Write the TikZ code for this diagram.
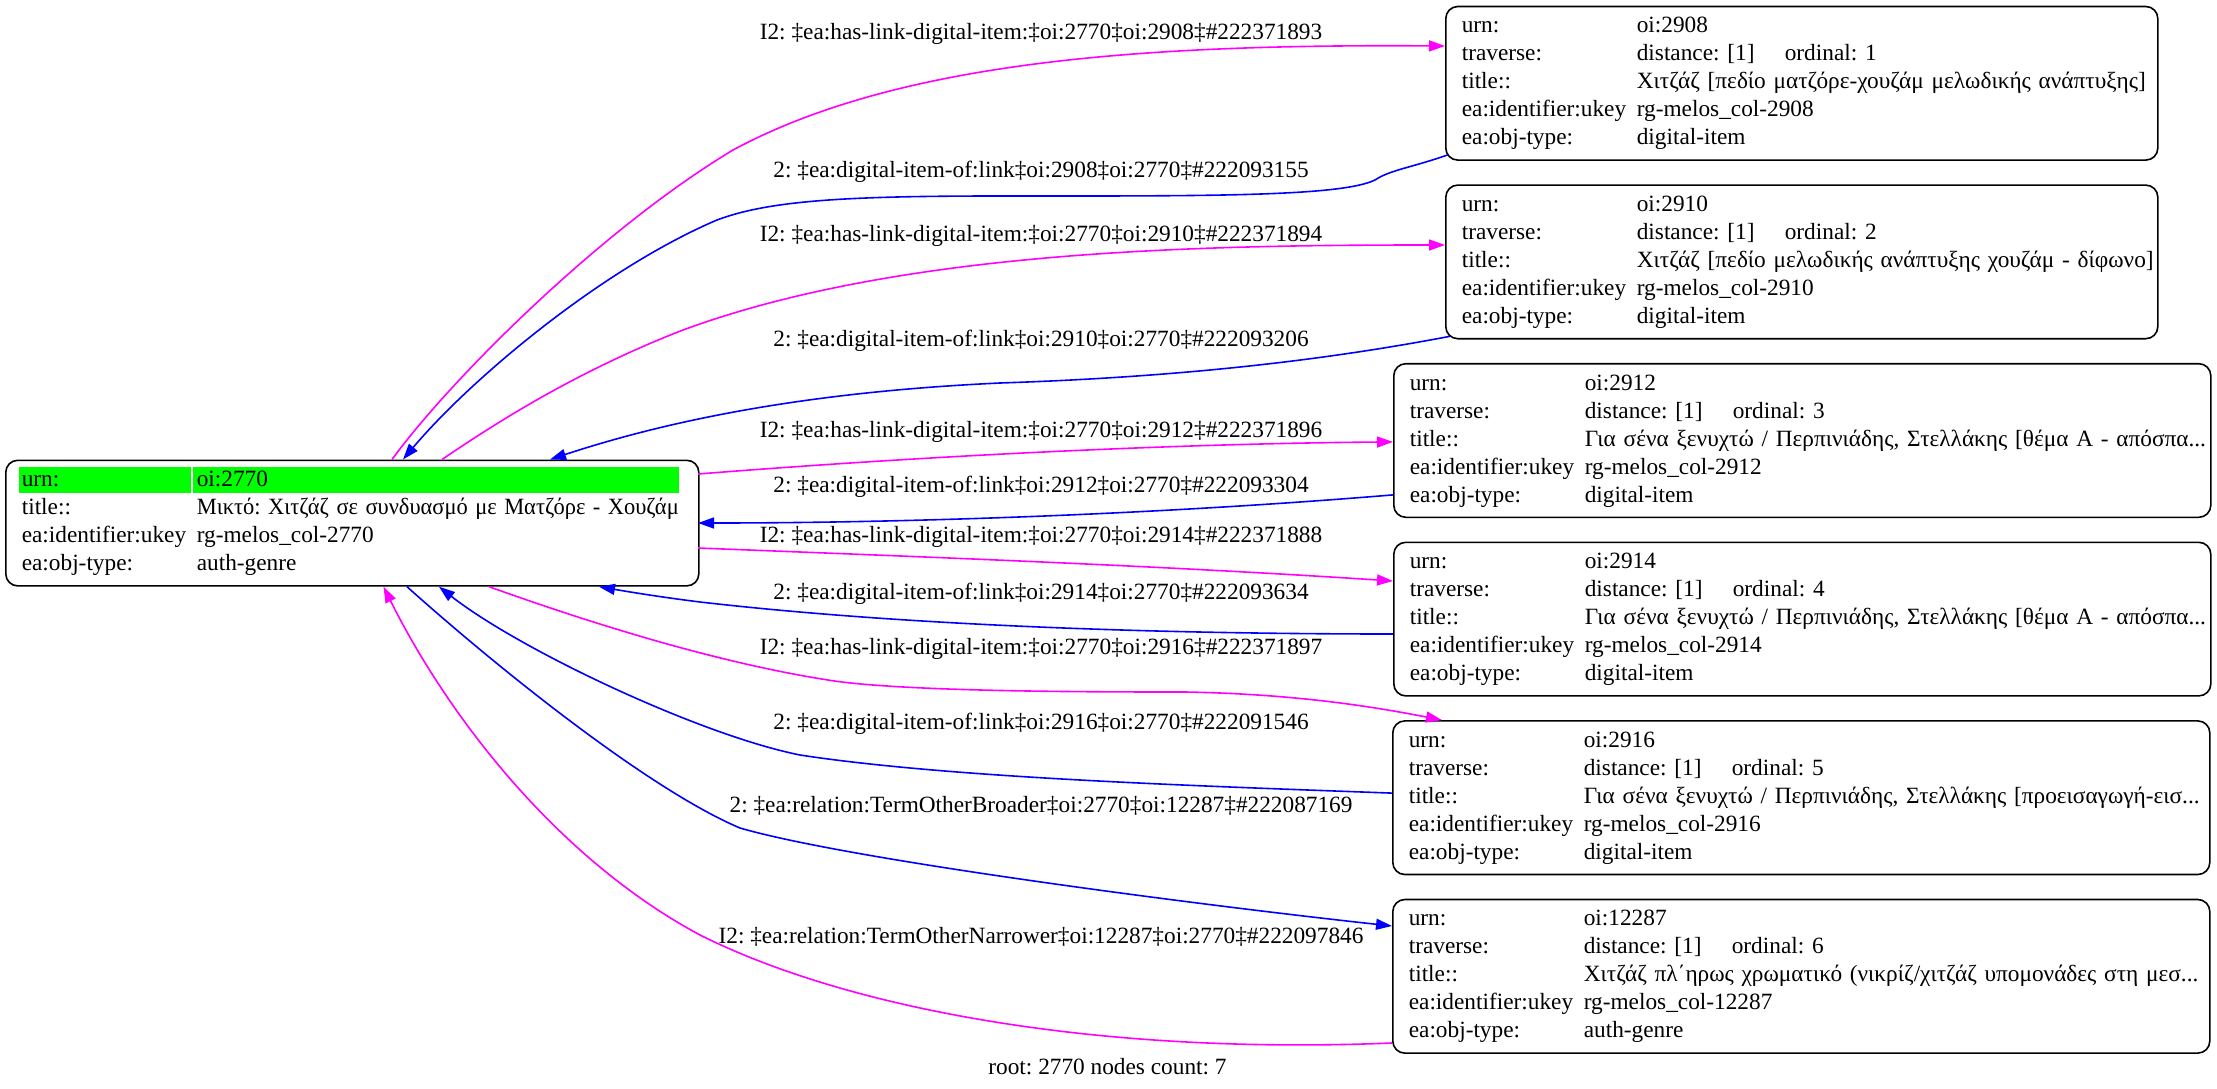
\documentclass[tikz,border=0pt]{standalone}
\usepackage{fontspec}
\usepackage{graphicx}
\setmainfont{Liberation Serif}
\usetikzlibrary{arrows.meta,calc}
\definecolor{mag}{RGB}{255,0,255}
\definecolor{blu}{RGB}{0,0,255}
\definecolor{grn}{RGB}{0,255,0}
\frenchspacing
\newcommand\Rw[2]{\strut\makebox[175pt][l]{#1}\mbox{#2}}
\newcommand\Trv[1]{\makebox[148pt][l]{distance: [1]}ordinal: #1}
\tikzset{
  every node/.style={font=\fontsize{23.3pt}{28pt}\selectfont\frenchspacing, inner sep=0pt},
  rec/.style={draw=black, line width=1.6pt, rounded corners=12pt, inner xsep=16pt, inner ysep=6.8pt, align=left, anchor=north west},
  lab/.style={anchor=base},
  edgeline/.style={line width=1.6pt, -{Triangle[length=16pt,width=11pt]}},
  me/.style={edgeline, color=mag},
  be/.style={edgeline, color=blu}
}
\begin{document}
\frenchspacing
\begin{tikzpicture}[x=1pt,y=-1pt]
\fill[white] (0,0) rectangle (2217,1089);
\useasboundingbox (0,0) rectangle (2217,1089);
% green header cells of root
\fill[grn] (18.75,467.3) rectangle (190.6,493.3);
\fill[grn] (193.3,467.3) rectangle (679.4,493.3);
% nodes
\node[rec, text width=661pt] (root) at (5,459.5) {%
\Rw{urn:}{oi:2770}\\
\Rw{title::}{\resizebox{482pt}{\height}{Μικτό: Χιτζάζ σε συνδυασμό με Ματζόρε - Χουζάμ}}\\
\Rw{ea:identifier:ukey}{rg-melos\_col-2770}\\
\Rw{ea:obj-type:}{auth-genre}};
\node[rec, text width=680pt] (n2908) at (1445,5.7) {%
\Rw{urn:}{oi:2908}\\
\Rw{traverse:}{\Trv{1}}\\
\Rw{title::}{Χιτζάζ [πεδίο ματζόρε-χουζάμ μελωδικής ανάπτυξης]}\\
\Rw{ea:identifier:ukey}{rg-melos\_col-2908}\\
\Rw{ea:obj-type:}{digital-item}};
\node[rec, text width=680pt] (n2910) at (1445,184.3) {%
\Rw{urn:}{oi:2910}\\
\Rw{traverse:}{\Trv{2}}\\
\Rw{title::}{Χιτζάζ [πεδίο μελωδικής ανάπτυξης χουζάμ - δίφωνο]}\\
\Rw{ea:identifier:ukey}{rg-melos\_col-2910}\\
\Rw{ea:obj-type:}{digital-item}};
\node[rec, text width=785pt] (n2912) at (1393,362.9) {%
\Rw{urn:}{oi:2912}\\
\Rw{traverse:}{\Trv{3}}\\
\Rw{title::}{Για σένα ξενυχτώ / Περπινιάδης, Στελλάκης [θέμα Α - απόσπα...}\\
\Rw{ea:identifier:ukey}{rg-melos\_col-2912}\\
\Rw{ea:obj-type:}{digital-item}};
\node[rec, text width=785pt] (n2914) at (1393,541.5) {%
\Rw{urn:}{oi:2914}\\
\Rw{traverse:}{\Trv{4}}\\
\Rw{title::}{Για σένα ξενυχτώ / Περπινιάδης, Στελλάκης [θέμα Α - απόσπα...}\\
\Rw{ea:identifier:ukey}{rg-melos\_col-2914}\\
\Rw{ea:obj-type:}{digital-item}};
\node[rec, text width=785pt] (n2916) at (1392,720.1) {%
\Rw{urn:}{oi:2916}\\
\Rw{traverse:}{\Trv{5}}\\
\Rw{title::}{Για σένα ξενυχτώ / Περπινιάδης, Στελλάκης [προεισαγωγή-εισ...}\\
\Rw{ea:identifier:ukey}{rg-melos\_col-2916}\\
\Rw{ea:obj-type:}{digital-item}};
\node[rec, text width=785pt] (n12287) at (1392,898.7) {%
\Rw{urn:}{oi:12287}\\
\Rw{traverse:}{\Trv{6}}\\
\Rw{title::}{Χιτζάζ πλ΄ηρως χρωματικό (νικρίζ/χιτζάζ υπομονάδες στη μεσ...}\\
\Rw{ea:identifier:ukey}{rg-melos\_col-12287}\\
\Rw{ea:obj-type:}{auth-genre}};
% edges
\draw[me] ($(root.north west)+(387,0)$) .. controls (450,380) and (600,230) .. (733,150) .. controls (900,60) and (1150,44) .. ($(n2908.north west)+(0,40.3)$);
\draw[be] ($(n2908.north west)+(2.5,149.3)$) .. controls (1410,168) and (1390,170) .. (1375,180) .. controls (1340,197) and (1200,196) .. (1000,196) .. controls (850,196) and (770,200) .. (717,220) .. controls (600,270) and (470,380) .. ($(root.north west)+(398,0)$);
\draw[me] ($(root.north west)+(437,0)$) .. controls (500,420) and (580,370) .. (683,330) .. controls (900,250) and (1200,245) .. ($(n2910.north west)+(0,60.7)$);
\draw[be] ($(n2910.north west)+(5,152)$) .. controls (1300,365) and (1150,378) .. (1000,383) .. controls (850,390) and (700,410) .. ($(root.north west)+(545,0)$);
\draw[me] ($(root.north west)+(693,14.5)$) .. controls (900,458) and (1150,444) .. ($(n2912.north west)+(0,79)$);
\draw[be] ($(n2912.north west)+(0,132)$) .. controls (1150,515) and (900,523) .. ($(root.north west)+(693,63.5)$);
\draw[me] ($(root.north west)+(693,88.5)$) .. controls (900,556) and (1150,565) .. ($(n2914.north west)+(0,39.5)$);
\draw[be] ($(n2914.north west)+(0,92.5)$) .. controls (1150,634) and (900,625) .. (700,602) .. controls (660,597) and (630,592) .. ($(root.south west)+(594,0)$);
\draw[me] ($(root.south west)+(484,0)$) .. controls (560,612) and (700,660) .. (828,680) .. controls (900,692) and (1100,692) .. (1185,692) .. controls (1300,694) and (1380,708) .. ($(n2916.north west)+(50,0)$);
\draw[be] ($(n2916.north west)+(0,73)$) .. controls (1200,786) and (950,778) .. (800,755) .. controls (700,735) and (520,650) .. ($(root.south west)+(434,0)$);
\draw[be] ($(root.south west)+(402,0)$) .. controls (500,670) and (650,790) .. (740,828) .. controls (850,860) and (1200,905) .. ($(n12287.north west)+(0,27.3)$);
\draw[me] ($(n12287.north west)+(0,144.3)$) .. controls (1100,1055) and (850,1010) .. (700,935) .. controls (560,860) and (450,720) .. ($(root.south west)+(378.5,0)$);
% labels
\node[lab] (l1) at (1041,39.3) {I2: ‡ea:has-link-digital-item:‡oi:2770‡oi:2908‡\#222371893};
\node[lab] (l2) at (1041,177.7) {2: ‡ea:digital-item-of:link‡oi:2908‡oi:2770‡\#222093155};
\node[lab] (l3) at (1041,241) {I2: ‡ea:has-link-digital-item:‡oi:2770‡oi:2910‡\#222371894};
\node[lab] (l4) at (1041,346) {2: ‡ea:digital-item-of:link‡oi:2910‡oi:2770‡\#222093206};
\node[lab] (l5) at (1041,437.7) {I2: ‡ea:has-link-digital-item:‡oi:2770‡oi:2912‡\#222371896};
\node[lab] (l6) at (1041,492) {2: ‡ea:digital-item-of:link‡oi:2912‡oi:2770‡\#222093304};
\node[lab] (l7) at (1041,542.7) {I2: ‡ea:has-link-digital-item:‡oi:2770‡oi:2914‡\#222371888};
\node[lab] (l8) at (1041,599.3) {2: ‡ea:digital-item-of:link‡oi:2914‡oi:2770‡\#222093634};
\node[lab] (l9) at (1041,654.3) {I2: ‡ea:has-link-digital-item:‡oi:2770‡oi:2916‡\#222371897};
\node[lab] (l10) at (1041,729.3) {2: ‡ea:digital-item-of:link‡oi:2916‡oi:2770‡\#222091546};
\node[lab] (l11) at (1041,812) {2: ‡ea:relation:TermOtherBroader‡oi:2770‡oi:12287‡\#222087169};
\node[lab] (l12) at (1041,943.7) {I2: ‡ea:relation:TermOtherNarrower‡oi:12287‡oi:2770‡\#222097846};
\node[lab] (foot) at (1107.5,1074.3) {root: 2770 nodes count: 7};
\end{tikzpicture}
\end{document}
